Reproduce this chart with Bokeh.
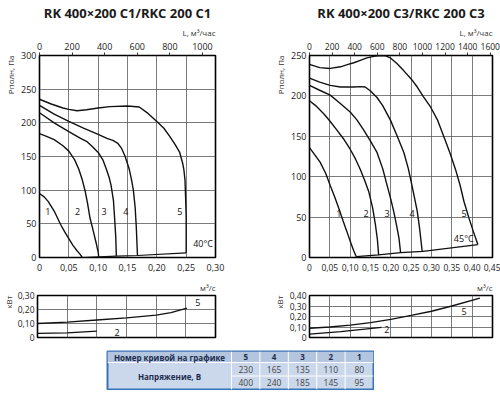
from bokeh.plotting import figure
from bokeh.models import Range1d, LinearAxis, FixedTicker, Title, Spacer
from bokeh.layouts import column, row
from bokeh.embed import file_html
from bokeh.resources import INLINE
from bokeh.core.properties import value

FONT = "Open Sans"

# ---------------- data: left chart (C1) ----------------
c1_title = "RK 400×200 C1/RKC 200 C1"
c1_x_ticks = [0, 0.05, 0.10, 0.15, 0.20, 0.25, 0.30]
c1_x_labels = ["0", "0,05", "0,10", "0,15", "0,20", "0,25", "0,30"]
c1_y_ticks = [0, 50, 100, 150, 200, 250, 300]
c1_lh_ticks = [0, 200, 400, 600, 800, 1000]

c1_curve1_x = [0, 0.008, 0.015, 0.025, 0.036, 0.043, 0.05, 0.057, 0.064, 0.069, 0.073]
c1_curve1_y = [95, 90, 83, 69, 49, 38, 28, 18, 10, 5, 0]
c1_curve2_x = [0, 0.012, 0.025, 0.04, 0.05, 0.06, 0.067, 0.073, 0.078, 0.082, 0.086, 0.092, 0.097, 0.10, 0.101]
c1_curve2_y = [184, 180, 175, 166, 158, 145, 131, 115, 98, 80, 59, 38, 20, 8, 1]
c1_curve3_x = [0, 0.025, 0.05, 0.07, 0.081, 0.09, 0.10, 0.108, 0.114, 0.119, 0.122, 0.126, 0.128, 0.13, 0.131]
c1_curve3_y = [215, 200, 187, 177, 172, 165, 156, 145, 131, 118, 107, 85, 59, 30, 2]
c1_curve4_x = [0, 0.025, 0.05, 0.075, 0.10, 0.115, 0.125, 0.133, 0.14, 0.146, 0.153, 0.157, 0.16, 0.163, 0.165, 0.167]
c1_curve4_y = [226, 213, 202, 192, 183, 177, 174, 170, 162, 150, 131, 115, 100, 75, 45, 3]
c1_curve5_x = [0, 0.02, 0.04, 0.05, 0.064, 0.08, 0.10, 0.12, 0.15, 0.17, 0.185, 0.20, 0.212, 0.222,
               0.231, 0.239, 0.244, 0.246, 0.248, 0.249, 0.25, 0.25]
c1_curve5_y = [235, 228, 222, 220, 218, 219.5, 222, 224, 225, 223.5, 214, 202, 192, 180,
               168, 156, 140, 131, 115, 90, 60, 7]
c1_limit_x = [0.073, 0.101, 0.131, 0.167, 0.25]
c1_limit_y = [0, 1, 2, 3, 7]
c1_curve_names = ["1", "2", "3", "4", "5"]
c1_name_x = [0.014, 0.065, 0.11, 0.147, 0.239]
c1_name_y = [68, 68, 68, 68, 68]
c1_temp = "40°C"

# power, left
c1_py_ticks = [0, 0.10, 0.20, 0.30]
c1_py_labels = ["0", "0,10", "0,20", "0,30"]
c1_p5_x = [0, 0.05, 0.10, 0.15, 0.20, 0.225, 0.252]
c1_p5_y = [0.10, 0.11, 0.125, 0.14, 0.16, 0.178, 0.21]
c1_p2_x = [0, 0.05, 0.10]
c1_p2_y = [0.03, 0.033, 0.045]
c1_pname = ["5", "2"]
c1_pname_x = [0.27, 0.134]
c1_pname_y = [0.25, 0.035]

# ---------------- data: right chart (C3) ----------------
c3_title = "RK 400×200 C3/RKC 200 C3"
c3_x_ticks = [0, 0.05, 0.10, 0.15, 0.20, 0.25, 0.30, 0.35, 0.40, 0.45]
c3_x_labels = ["0", "0,05", "0,10", "0,15", "0,20", "0,25", "0,30", "0,35", "0,40", "0,45"]
c3_y_ticks = [0, 50, 100, 150, 200, 250]
c3_lh_ticks = [0, 200, 400, 600, 800, 1000, 1200, 1400, 1600]

c3_curve1_x = [0, 0.013, 0.026, 0.04, 0.051, 0.062, 0.072, 0.082, 0.092, 0.101, 0.109, 0.115]
c3_curve1_y = [136, 127, 118, 104, 89, 75, 61, 46, 32, 19, 8, 1]
c3_curve2_x = [0, 0.015, 0.035, 0.05, 0.067, 0.085, 0.10, 0.113, 0.125, 0.136, 0.146, 0.155, 0.162, 0.167, 0.17]
c3_curve2_y = [194, 188, 178, 169, 158, 146, 134, 122, 109, 95, 81, 62, 41, 22, 3]
c3_curve3_x = [0, 0.025, 0.051, 0.075, 0.10, 0.117, 0.133, 0.15, 0.166, 0.18, 0.191, 0.20, 0.207, 0.214, 0.22, 0.224]
c3_curve3_y = [213, 207, 201, 191, 180, 170, 158, 144, 130, 110, 89, 72, 57, 40, 24, 6]
c3_curve4_x = [0, 0.025, 0.051, 0.076, 0.109, 0.125, 0.137, 0.15, 0.166, 0.18, 0.199, 0.215, 0.232,
               0.243, 0.252, 0.259, 0.265, 0.271, 0.277]
c3_curve4_y = [222, 217, 213, 211, 211, 211.5, 211, 206, 198, 188, 170, 151, 130,
               110, 89, 72, 57, 35, 8]
c3_curve5_x = [0, 0.025, 0.051, 0.076, 0.095, 0.109, 0.125, 0.141, 0.158, 0.174, 0.187, 0.199, 0.215,
               0.232, 0.25, 0.265, 0.28, 0.298, 0.315, 0.33, 0.345, 0.359, 0.37, 0.38, 0.392, 0.403, 0.414]
c3_curve5_y = [239, 235, 234, 236, 239, 241, 244, 247, 249, 250, 249.5, 247, 240,
               231, 221, 211, 199, 186, 170, 150, 130, 109, 90, 69, 49, 32, 16]
c3_limit_x = [0.115, 0.17, 0.224, 0.279, 0.414]
c3_limit_y = [1, 3.2, 6, 7.5, 16]
c3_curve_names = ["1", "2", "3", "4", "5"]
c3_name_x = [0.072, 0.139, 0.191, 0.252, 0.38]
c3_name_y = [54, 54, 54, 54, 54]
c3_temp = "45°C"

# power, right
c3_py_ticks = [0, 0.10, 0.20, 0.30, 0.40]
c3_py_labels = ["0", "0,10", "0,20", "0,30", "0,40"]
c3_p5_x = [0, 0.05, 0.10, 0.15, 0.20, 0.25, 0.30, 0.35, 0.419]
c3_p5_y = [0.088, 0.10, 0.118, 0.142, 0.172, 0.21, 0.25, 0.30, 0.375]
c3_p2_x = [0, 0.077, 0.177]
c3_p2_y = [0.032, 0.056, 0.097]
c3_pname = ["5", "2"]
c3_pname_x = [0.38, 0.19]
c3_pname_y = [0.244, 0.072]

# ---------------- data: table ----------------
table_head = "Номер кривой на графике"
table_row_label = "Напряжение, В"
table_curves = ["5", "4", "3", "2", "1"]
table_v1 = [230, 165, 135, 110, 80]
table_v2 = [400, 240, 185, 145, 95]

M3H_PER_M3S = 3600.0
INK = "#111111"
GRID = "#5a5a5a"
TXT = "#222222"


def style_common(p):
    p.outline_line_color = "black"
    p.outline_line_width = 1.6
    p.outline_line_alpha = 1.0
    p.background_fill_color = "white"
    p.border_fill_color = "white"
    for ax in p.axis:
        ax.axis_line_color = None
        ax.major_tick_line_color = None
        ax.minor_tick_line_color = None
        ax.major_tick_out = 0
        ax.major_tick_in = 0
        ax.major_label_text_font = FONT
        ax.major_label_text_color = TXT
    p.xgrid.grid_line_color = GRID
    p.ygrid.grid_line_color = GRID
    p.xgrid.grid_line_width = 0.8
    p.ygrid.grid_line_width = 0.8


def main_chart(title, width, bl, br, x_end, y_end, xt, xl, yt, lht, curves, limit, names, nx, ny,
               temp, temp_xy, tick_fs):
    p = figure(width=width, height=277, x_range=Range1d(0, x_end), y_range=Range1d(0, y_end),
               output_backend="svg", toolbar_location=None,
               min_border_left=bl, min_border_right=br, min_border_top=51, min_border_bottom=20)
    style_common(p)
    p.xaxis.ticker = FixedTicker(ticks=xt)
    p.xaxis.major_label_overrides = dict(zip(xt, xl))
    p.xaxis.major_label_standoff = 6
    p.xaxis.major_label_text_font_size = tick_fs
    p.yaxis.ticker = FixedTicker(ticks=yt)
    p.yaxis.major_label_standoff = 3
    p.yaxis.major_label_text_font_size = "9px"
    p.xgrid.ticker = FixedTicker(ticks=xt)
    p.ygrid.ticker = FixedTicker(ticks=yt)

    p.extra_x_ranges = {"lh": Range1d(0, x_end * M3H_PER_M3S)}
    top = LinearAxis(x_range_name="lh", ticker=FixedTicker(ticks=lht))
    top.axis_line_color = None
    top.major_tick_line_color = "#333333"
    top.major_tick_out = 3
    top.major_tick_in = 0
    top.minor_tick_line_color = None
    top.major_label_standoff = 3
    top.major_label_text_font = FONT
    top.major_label_text_font_size = tick_fs
    top.major_label_text_color = TXT
    p.add_layout(top, "above")
    p.add_layout(Title(text="L, м³/час", align="right", text_font=FONT, text_font_size="8px",
                       text_font_style="normal", text_color="#333333", standoff=4), "above")
    p.add_layout(Title(text="Рполн, Па", align="right", text_font=FONT, text_font_size="8px",
                       text_font_style="normal", text_color="#333333", standoff=5), "left")

    p.title.text = title
    p.title.align = "center"
    p.title.text_font = FONT
    p.title.text_font_size = "13px"
    p.title.text_font_style = "bold"
    p.title.text_color = "#1a1a1a"
    p.title.standoff = 2

    for cx, cy in curves:
        p.line(cx, cy, line_color=INK, line_width=1.4)
    p.line(limit[0], limit[1], line_color=INK, line_width=1.2)
    p.text(x=nx, y=ny, text=names, text_font=value(FONT), text_font_size=value("9px"),
           text_align="center", text_baseline="middle", text_color=INK)
    p.text(x=[temp_xy[0]], y=[temp_xy[1]], text=[temp], text_font=value(FONT),
           text_font_size=value("9px"), text_align="left", text_baseline="middle", text_color=INK)
    return p


def power_chart(width, bl, br, x_end, y_end, xt, yt, yl, curves, names, nx, ny, kw_standoff):
    p = figure(width=width, height=65, x_range=Range1d(0, x_end), y_range=Range1d(0, y_end),
               output_backend="svg", toolbar_location=None,
               min_border_left=bl, min_border_right=br, min_border_top=18, min_border_bottom=5)
    style_common(p)
    p.xaxis.ticker = FixedTicker(ticks=xt)
    p.xaxis.visible = False
    p.xgrid.ticker = FixedTicker(ticks=xt)
    p.yaxis.ticker = FixedTicker(ticks=yt)
    p.ygrid.ticker = FixedTicker(ticks=yt)
    p.yaxis.major_label_overrides = dict(zip(yt, yl))
    p.yaxis.major_label_standoff = 3
    p.yaxis.major_label_text_font_size = "8.5px"
    p.add_layout(Title(text="м³/с", align="right", text_font=FONT, text_font_size="8px",
                       text_font_style="normal", text_color="#333333", standoff=5), "above")
    p.add_layout(Title(text="кВт", align="right", text_font=FONT, text_font_size="8px",
                       text_font_style="normal", text_color="#333333", standoff=kw_standoff), "left")
    for cx, cy in curves:
        p.line(cx, cy, line_color=INK, line_width=1.3)
    p.text(x=nx, y=ny, text=names, text_font=value(FONT), text_font_size=value("9px"),
           text_align="center", text_baseline="middle", text_color=INK)
    return p


# left column: frame 35..215 ; right column: frame 309..492
p1 = main_chart(c1_title, 262, 35, 47, 0.30, 300, c1_x_ticks, c1_x_labels, c1_y_ticks, c1_lh_ticks,
                [(c1_curve1_x, c1_curve1_y), (c1_curve2_x, c1_curve2_y), (c1_curve3_x, c1_curve3_y),
                 (c1_curve4_x, c1_curve4_y), (c1_curve5_x, c1_curve5_y)],
                (c1_limit_x, c1_limit_y), c1_curve_names, c1_name_x, c1_name_y, c1_temp, (0.262, 21), "9px")
p2 = main_chart(c3_title, 238, 47, 8, 0.45, 250, c3_x_ticks, c3_x_labels, c3_y_ticks, c3_lh_ticks,
                [(c3_curve1_x, c3_curve1_y), (c3_curve2_x, c3_curve2_y), (c3_curve3_x, c3_curve3_y),
                 (c3_curve4_x, c3_curve4_y), (c3_curve5_x, c3_curve5_y)],
                (c3_limit_x, c3_limit_y), c3_curve_names, c3_name_x, c3_name_y, c3_temp, (0.355, 24), "8.5px")

q1 = power_chart(262, 35, 47, 0.30, 0.30, c1_x_ticks, c1_py_ticks, c1_py_labels,
                 [(c1_p5_x, c1_p5_y), (c1_p2_x, c1_p2_y)], c1_pname, c1_pname_x, c1_pname_y, 1)
q2 = power_chart(238, 47, 8, 0.45, 0.40, c3_x_ticks, c3_py_ticks, c3_py_labels,
                 [(c3_p5_x, c3_p5_y), (c3_p2_x, c3_p2_y)], c3_pname, c3_pname_x, c3_pname_y, 3)

# ---------------- table ----------------
TW, LABEL_W = 266.0, 124.0
COL_W = (TW - LABEL_W) / len(table_curves)
H_HEAD, H_ROW = 11.0, 13.5
TH = H_HEAD + 2 * H_ROW

t = figure(width=268, height=48, x_range=Range1d(0, TW), y_range=Range1d(0, TH),
           output_backend="svg", toolbar_location=None, x_axis_location=None, y_axis_location=None,
           min_border_left=1, min_border_right=1, min_border_top=9, min_border_bottom=1)
t.grid.visible = False
t.outline_line_color = "#3a74b8"
t.outline_line_width = 2
t.border_fill_color = "white"
t.background_fill_color = "#cbd8ec"
t.quad(left=[0], right=[TW], bottom=[TH - H_HEAD], top=[TH], fill_color="#b3c5df", line_color=None)
col_edges = [LABEL_W + i * COL_W for i in range(len(table_curves))]
col_centers = [LABEL_W + (i + 0.5) * COL_W for i in range(len(table_curves))]
t.segment(x0=col_edges, y0=[0] * len(col_edges), x1=col_edges, y1=[TH] * len(col_edges),
          line_color="white", line_width=1)
t.segment(x0=[0, LABEL_W], y0=[TH - H_HEAD, H_ROW], x1=[TW, TW], y1=[TH - H_HEAD, H_ROW],
          line_color="white", line_width=1)
t.text(x=[LABEL_W / 2], y=[TH - H_HEAD / 2], text=[table_head], text_font=value(FONT),
       text_font_size=value("8px"), text_font_style="bold", text_align="center",
       text_baseline="middle", text_color="#1c2c4c")
t.text(x=[LABEL_W / 2], y=[H_ROW], text=[table_row_label], text_font=value(FONT),
       text_font_size=value("8px"), text_font_style="bold", text_align="center",
       text_baseline="middle", text_color="#1c2c4c")
t.text(x=col_centers, y=[TH - H_HEAD / 2] * 5, text=table_curves, text_font=value(FONT),
       text_font_size=value("8px"), text_font_style="bold", text_align="center",
       text_baseline="middle", text_color="#1c2c4c")
t.text(x=col_centers, y=[H_ROW * 1.5] * 5, text=[str(v) for v in table_v1], text_font=value(FONT),
       text_font_size=value("8.5px"), text_align="center", text_baseline="middle", text_color="#444444")
t.text(x=col_centers, y=[H_ROW * 0.5] * 5, text=[str(v) for v in table_v2], text_font=value(FONT),
       text_font_size=value("8.5px"), text_align="center", text_baseline="middle", text_color="#444444")

layout = column(row(p1, p2), row(q1, q2), row(Spacer(width=106, height=48), t))

open("out.html", "w").write(file_html(layout, INLINE))
